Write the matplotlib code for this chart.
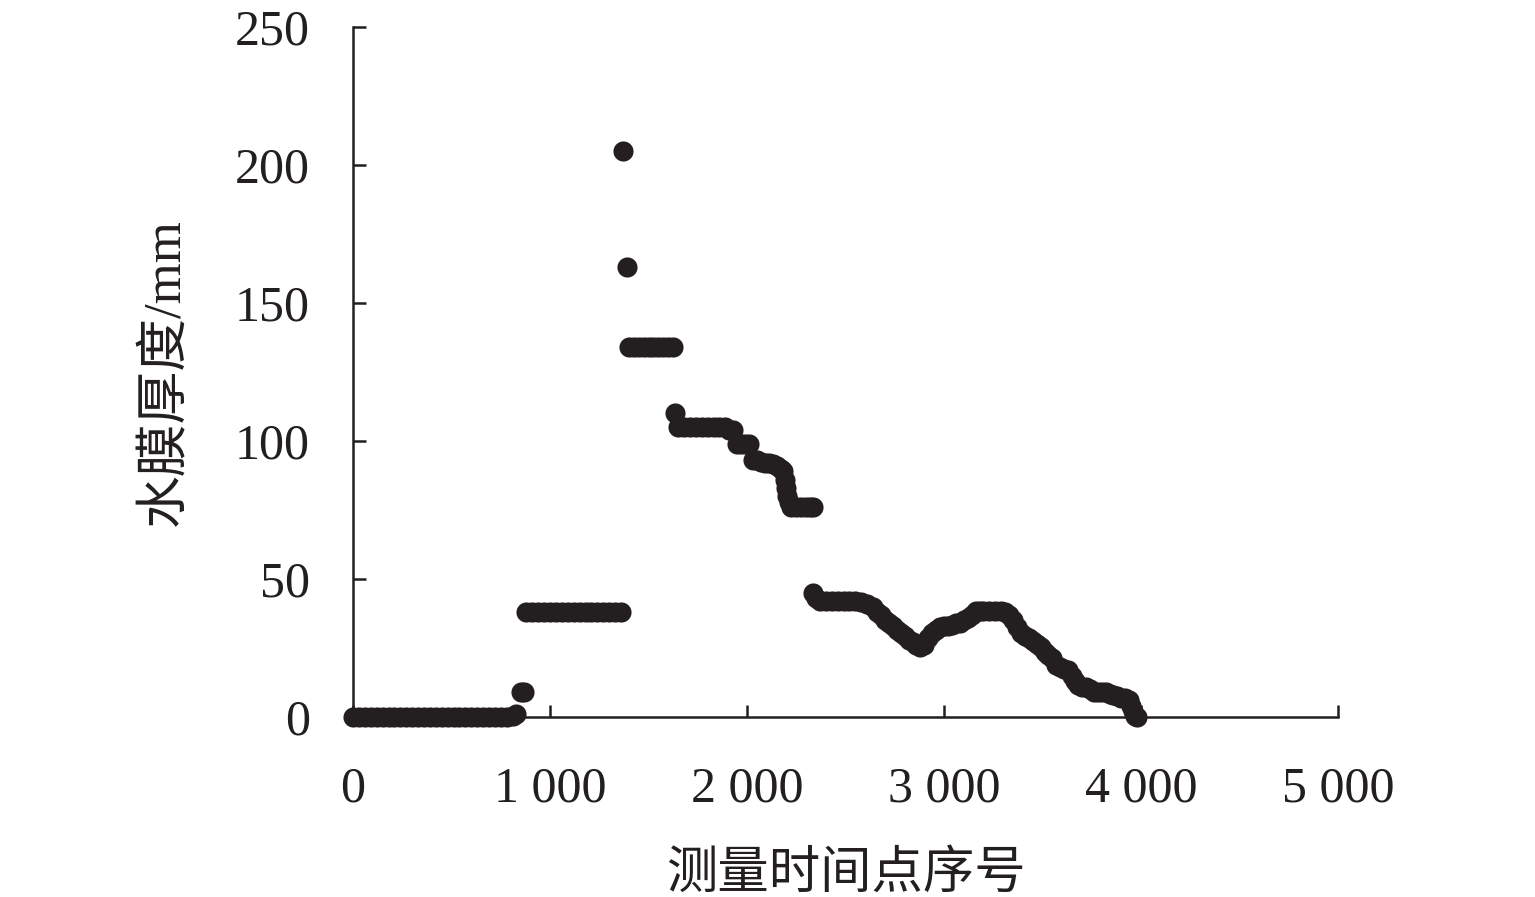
import matplotlib.pyplot as plt
from matplotlib.ticker import FuncFormatter

x_zero = [0, 30, 60, 90, 120, 150, 180, 210, 240, 270, 300, 330, 360, 390, 420,
          450, 480, 510, 540, 570, 600, 630, 660, 690, 720, 750, 780, 810, 825]
y_zero = [0, 0, 0, 0, 0, 0, 0, 0, 0, 0, 0, 0, 0, 0, 0,
          0, 0, 0, 0, 0, 0, 0, 0, 0, 0, 0, 0, 0.5, 1]

x_rise = [850, 868]
y_rise = [9, 9]

x_38 = [880, 910, 940, 970, 1000, 1030, 1060, 1090, 1120, 1150, 1180, 1210,
        1240, 1270, 1300, 1330, 1360]
y_38 = [38, 38, 38, 38, 38, 38, 38, 38, 38, 38, 38, 38, 38, 38, 38, 38, 38]

x_peak = [1372, 1390]
y_peak = [205, 163]

x_134 = [1400, 1425, 1450, 1475, 1500, 1525, 1550, 1575, 1600, 1625]
y_134 = [134, 134, 134, 134, 134, 134, 134, 134, 134, 134]

x_105 = [1635, 1650, 1680, 1710, 1740, 1770, 1800, 1830, 1860, 1890, 1910,
         1930, 1950, 1970, 1990, 2010, 2030, 2050, 2070, 2090, 2110, 2130,
         2150, 2170, 2185, 2195, 2200, 2205, 2212]
y_105 = [110, 105, 105, 105, 105, 105, 105, 105, 105, 105, 104,
         104, 99, 99, 99, 99, 93, 93, 92.5, 92, 92, 91.5,
         91, 90, 89, 86, 83, 80, 78]

x_76 = [2225, 2250, 2275, 2300, 2320, 2335]
y_76 = [76, 76, 76, 76, 76, 76]

x_tail = [2335, 2350, 2370, 2400, 2430, 2460, 2490, 2520, 2550, 2580, 2610,
          2640, 2660, 2680, 2700, 2720, 2740, 2760, 2780, 2800, 2820, 2840,
          2860, 2880, 2900, 2920, 2940, 2960, 2980, 3000, 3020, 3040, 3060,
          3080, 3100, 3120, 3140, 3160, 3180, 3200, 3230, 3260, 3290, 3310,
          3330, 3350, 3370, 3390, 3410, 3430, 3450, 3470, 3490, 3510, 3530,
          3550, 3570, 3590, 3610, 3630, 3650, 3665, 3680, 3700, 3720, 3740,
          3760, 3780, 3800, 3820, 3840, 3860, 3880, 3900, 3920, 3940, 3950,
          3960, 3970, 3980]
y_tail = [45, 43, 42, 42, 42, 42, 42, 42, 42, 41.5, 41,
          40, 38, 37, 35, 34, 33, 31.5, 30.5, 29.5, 28, 27,
          26, 25.5, 26, 28.5, 30.5, 31.5, 32.5, 33, 33, 33.5, 34,
          34, 35, 36, 37, 38.5, 38.5, 38.5, 38.5, 38.5, 38.5, 38,
          37, 35, 32.5, 30.5, 29.5, 28.5, 27.5, 26.5, 25.5, 23.5, 22.5,
          21.5, 19, 18, 17.5, 17, 15, 13, 11.5, 11, 11, 10,
          9, 9, 9, 9, 8.5, 8, 7.5, 7, 7, 6, 4,
          2, 0.5, 0]

xs = x_zero + x_rise + x_38 + x_peak + x_134 + x_105 + x_76 + x_tail
ys = y_zero + y_rise + y_38 + y_peak + y_134 + y_105 + y_76 + y_tail

x_ticks = [0, 1000, 2000, 3000, 4000, 5000]
y_ticks = [0, 50, 100, 150, 200, 250]

ink = '#231f20'
serif = ['Liberation Serif', 'Noto Sans CJK SC']

fig = plt.figure(figsize=(15.35, 8.97), dpi=100)
ax = fig.add_axes([0.23, 0.2007, 0.6417, 0.7692])

ax.scatter(xs, ys, s=210, color=ink, linewidths=0, clip_on=False, zorder=5)

ax.set_xlim(0, 5000)
ax.set_ylim(0, 250)
ax.set_xticks(x_ticks)
ax.set_yticks(y_ticks)
ax.xaxis.set_major_formatter(FuncFormatter(lambda v, p: f'{int(v):,}'.replace(',', ' ')))

for side in ['top', 'right']:
    ax.spines[side].set_visible(False)
for side in ['left', 'bottom']:
    ax.spines[side].set_linewidth(1.8)
    ax.spines[side].set_color(ink)

ax.tick_params(axis='both', direction='in', length=9, width=1.8, color=ink,
               labelsize=36, labelcolor=ink)
ax.tick_params(axis='x', pad=35)
ax.tick_params(axis='y', pad=31)
for lab in ax.get_xticklabels() + ax.get_yticklabels():
    lab.set_family(serif)

ax.set_xlabel('测量时间点序号', fontsize=37, family=serif, color=ink, labelpad=28)
ax.set_ylabel('水膜厚度/mm', fontsize=38, family=serif, color=ink, labelpad=32)

fig.savefig('out.png', dpi=100)
